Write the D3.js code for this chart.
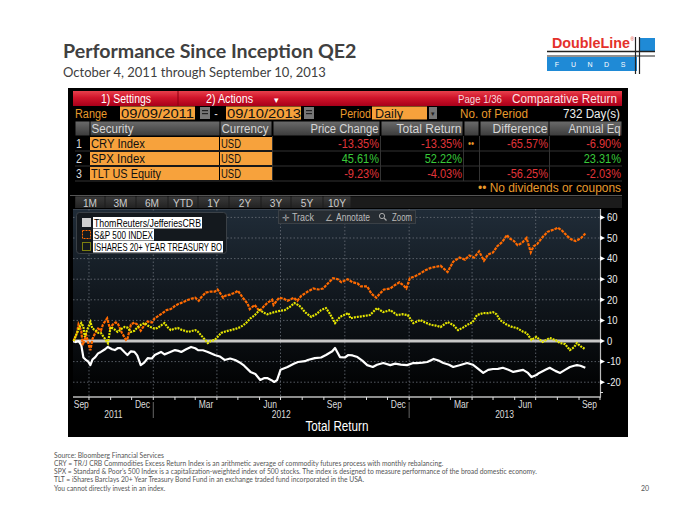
<!DOCTYPE html>
<html><head><meta charset="utf-8">
<script src="https://cdn.jsdelivr.net/npm/d3@7"></script>
<style>body{margin:0;background:#fff}svg{display:block}</style>
</head><body><svg id="c" width="700" height="525"></svg>
<script>
// ---------------- DATA ----------------
const seriesNames = ["ThomReuters/JefferiesCRB", "S&P 500 INDEX", "ISHARES 20+ YEAR TREASURY BO"];
const securities = ["CRY Index", "SPX Index", "TLT US Equity"];
const currencies = ["USD", "USD", "USD"];
const priceChange = [-13.35, 45.61, -9.23];
const totalReturn = [-13.35, 52.22, -4.03];
const difference = [-65.57, null, -56.25];
const annualEq = [-6.90, 23.31, -2.03];
const rangeStart = "09/09/2011", rangeEnd = "09/10/2013";
const periodButtons = ["1M","3M","6M","YTD","1Y","2Y","3Y","5Y","10Y"];
const yTicks = [60, 50, 40, 30, 20, 10, 0, -10, -20];

const cryData = [
["2011-09-09",0],["2011-09-12",-0.5],["2011-09-16",0],["2011-09-20",-2],["2011-09-23",-8],["2011-09-26",-9],["2011-09-30",-10],
["2011-10-03",-11.7],["2011-10-06",-9],["2011-10-10",-7.8],["2011-10-14",-6],["2011-10-18",-5.3],["2011-10-24",-4],["2011-10-28",-2.9],
["2011-11-03",-4],["2011-11-07",-4.4],["2011-11-11",-3.5],["2011-11-15",-3.4],["2011-11-21",-5.5],["2011-11-25",-6.8],["2011-11-30",-5],
["2011-12-05",-5.3],["2011-12-09",-7],["2011-12-14",-11.7],["2011-12-19",-10.5],["2011-12-24",-8.3],["2011-12-30",-8.5],
["2012-01-03",-6.8],["2012-01-12",-5.3],["2012-01-17",-6.5],["2012-01-22",-5.8],["2012-02-01",-4.4],["2012-02-06",-4.8],["2012-02-10",-5.3],
["2012-02-17",-4],["2012-02-24",-2.9],["2012-03-01",-3.5],["2012-03-05",-4.4],["2012-03-12",-4.5],["2012-03-19",-5.3],["2012-03-29",-6.8],
["2012-04-05",-7.5],["2012-04-12",-9.2],["2012-04-20",-8.5],["2012-04-27",-9.2],["2012-05-05",-10.7],["2012-05-10",-12],["2012-05-19",-15],
["2012-05-26",-16],["2012-06-02",-18.9],["2012-06-08",-18],["2012-06-12",-18],["2012-06-18",-19],["2012-06-22",-19.9],["2012-06-26",-19],
["2012-07-01",-14],["2012-07-11",-12.6],["2012-07-20",-11],["2012-07-26",-10.2],["2012-08-05",-9.8],["2012-08-09",-9.2],["2012-08-19",-8.3],
["2012-08-28",-8],["2012-09-04",-6.8],["2012-09-13",-5],["2012-09-17",-3.4],["2012-09-24",-7.8],["2012-10-01",-8],["2012-10-06",-6.8],
["2012-10-12",-7],["2012-10-19",-7.8],["2012-10-26",-9.5],["2012-11-02",-11.7],["2012-11-10",-12.6],["2012-11-16",-11.5],["2012-11-25",-10.7],
["2012-12-05",-11.7],["2012-12-12",-11],["2012-12-20",-11.5],["2012-12-29",-11.7],["2013-01-07",-10.7],["2013-01-12",-10.7],["2013-01-20",-10.5],
["2013-01-27",-10.2],["2013-02-05",-8.7],["2013-02-12",-9.5],["2013-02-19",-10.7],["2013-02-27",-11.5],["2013-03-05",-12.6],["2013-03-14",-11.8],
["2013-03-25",-10.7],["2013-04-02",-11.5],["2013-04-08",-13],["2013-04-17",-15.5],["2013-04-24",-14],["2013-05-01",-13.6],["2013-05-08",-13.5],
["2013-05-15",-13],["2013-05-23",-14],["2013-05-30",-15],["2013-06-06",-14.5],["2013-06-13",-14],["2013-06-20",-15.5],["2013-06-25",-17.5],
["2013-07-02",-16.5],["2013-07-06",-15.5],["2013-07-15",-14],["2013-07-21",-13],["2013-07-29",-14.5],["2013-08-05",-15.5],["2013-08-12",-14],
["2013-08-19",-12.6],["2013-08-25",-12],["2013-08-29",-11.7],["2013-09-03",-12],["2013-09-10",-13]
];
const spxData = [
["2011-09-09",0],["2011-09-14",4],["2011-09-16",8],["2011-09-20",5],["2011-09-22",-2],["2011-09-27",3],["2011-09-30",-1],["2011-10-03",-4.5],
["2011-10-06",1],["2011-10-10",4],["2011-10-14",6],["2011-10-18",5],["2011-10-21",8],["2011-10-27",11],["2011-10-31",6],["2011-11-04",8],
["2011-11-08",9],["2011-11-11",8.7],["2011-11-17",4],["2011-11-23",0.5],["2011-11-25",1],["2011-11-30",8],["2011-12-05",9],["2011-12-09",8],
["2011-12-14",5],["2011-12-20",8],["2011-12-24",9.5],["2011-12-30",9],["2012-01-03",11],["2012-01-12",13],["2012-01-20",15],["2012-01-26",15.5],
["2012-02-01",17],["2012-02-06",18],["2012-02-10",18.5],["2012-02-20",20],["2012-02-24",20.5],["2012-03-01",21],["2012-03-06",19.5],["2012-03-09",21],
["2012-03-16",23.5],["2012-03-23",24],["2012-03-29",24],["2012-04-02",25],["2012-04-10",21],["2012-04-13",22],["2012-04-20",22.5],["2012-04-27",23.5],
["2012-05-01",24.5],["2012-05-07",21.5],["2012-05-15",18],["2012-05-18",15.5],["2012-05-25",17.5],["2012-06-01",14.5],["2012-06-05",16],["2012-06-12",18.5],
["2012-06-19",20],["2012-06-21",17.5],["2012-06-29",21],["2012-07-06",20.5],["2012-07-11",19.5],["2012-07-20",21],["2012-07-25",19.5],["2012-07-31",22],
["2012-08-09",24],["2012-08-17",25.5],["2012-08-24",25],["2012-08-31",25.5],["2012-09-07",28],["2012-09-14",30.5],["2012-09-21",30],["2012-09-26",28.5],
["2012-10-05",30],["2012-10-12",28.5],["2012-10-19",28],["2012-10-24",26.5],["2012-11-02",26.5],["2012-11-08",23],["2012-11-15",21],["2012-11-20",23],
["2012-11-26",25],["2012-12-05",25.5],["2012-12-11",27],["2012-12-18",28.5],["2012-12-24",27],["2012-12-28",25.5],["2013-01-02",30.5],["2013-01-10",31.5],
["2013-01-18",33],["2013-01-25",34.5],["2013-02-01",35.5],["2013-02-08",36],["2013-02-15",36.5],["2013-02-20",35],["2013-02-25",33.5],["2013-03-01",36],
["2013-03-05",38.5],["2013-03-14",40.5],["2013-03-22",39.5],["2013-03-28",41.5],["2013-04-04",40.5],["2013-04-11",43.5],["2013-04-18",39],["2013-04-24",42],
["2013-05-01",43],["2013-05-07",46],["2013-05-14",48],["2013-05-21",51.5],["2013-05-24",50],["2013-05-31",48.5],["2013-06-05",46.5],["2013-06-11",47.5],
["2013-06-18",50],["2013-06-24",43],["2013-06-28",46],["2013-07-03",47],["2013-07-11",50.5],["2013-07-18",53],["2013-07-26",54],["2013-08-02",55],
["2013-08-08",53.5],["2013-08-15",51],["2013-08-20",49.5],["2013-08-27",48.5],["2013-08-30",49],["2013-09-04",50],["2013-09-10",52.2]
];
const tltData = [
["2011-09-09",0],["2011-09-14",4],["2011-09-20",8.7],["2011-09-23",7],["2011-09-25",2],["2011-09-28",5],["2011-10-03",9.2],["2011-10-06",6],
["2011-10-10",5.3],["2011-10-14",4],["2011-10-18",3.9],["2011-10-24",1],["2011-10-28",-1],["2011-11-01",6.8],["2011-11-07",5.5],["2011-11-11",4.4],
["2011-11-17",6],["2011-11-21",6.8],["2011-11-25",6.5],["2011-11-30",4.4],["2011-12-05",5],["2011-12-10",6.8],["2011-12-15",8],["2011-12-20",8.7],
["2011-12-24",7.5],["2011-12-28",6.8],["2012-01-03",6],["2012-01-07",6.3],["2012-01-12",7.5],["2012-01-17",8.7],["2012-01-22",6.5],["2012-01-26",5.3],
["2012-02-01",6],["2012-02-05",6.3],["2012-02-10",5.5],["2012-02-20",4.4],["2012-02-24",4.8],["2012-03-01",5.3],["2012-03-05",4.5],["2012-03-09",2.9],
["2012-03-14",1],["2012-03-19",-1],["2012-03-23",0],["2012-03-29",0.5],["2012-04-07",3.9],["2012-04-12",4.5],["2012-04-21",5.3],["2012-04-27",5.8],
["2012-05-05",6.8],["2012-05-12",8.5],["2012-05-19",11],["2012-05-25",12.5],["2012-06-01",15],["2012-06-08",13.6],["2012-06-12",13],["2012-06-22",14],
["2012-06-28",14.5],["2012-07-07",15],["2012-07-14",16.5],["2012-07-21",18.4],["2012-07-26",17.5],["2012-07-30",16.5],["2012-08-05",14],["2012-08-14",11.7],
["2012-08-21",13],["2012-08-28",15],["2012-09-04",16],["2012-09-10",13],["2012-09-17",8.7],["2012-09-24",11.7],["2012-10-06",13.6],["2012-10-09",11],
["2012-10-15",11.5],["2012-10-19",11.7],["2012-10-26",12],["2012-11-06",12.6],["2012-11-16",16],["2012-11-25",14],["2012-12-05",15],["2012-12-15",12.6],
["2012-12-22",13],["2012-12-30",12.6],["2013-01-07",8.7],["2013-01-17",10.2],["2013-01-24",9],["2013-02-01",7.8],["2013-02-08",7.5],["2013-02-15",6.8],
["2013-02-25",9.2],["2013-03-05",7.8],["2013-03-12",5.3],["2013-03-19",6.5],["2013-03-25",7.8],["2013-04-02",9.2],["2013-04-08",12.6],["2013-04-17",13.6],
["2013-04-24",13.5],["2013-05-01",14],["2013-05-06",13],["2013-05-11",10.2],["2013-05-21",7.8],["2013-05-27",7],["2013-06-04",6.3],["2013-06-13",4.5],
["2013-06-18",3.9],["2013-06-25",0.5],["2013-07-02",2],["2013-07-11",-0.5],["2013-07-21",1.5],["2013-07-29",0.5],["2013-08-05",-1],["2013-08-12",-1.5],
["2013-08-19",-4.4],["2013-08-25",-3],["2013-08-29",-1],["2013-09-03",-2.5],["2013-09-10",-4]
];
const footnotes = [
"Source: Bloomberg Financial Services",
"CRY = TR/J CRB Commodities Excess Return Index is an arithmetic average of commodity futures process with monthly rebalancing.",
"SPX = Standard & Poor\u2019s 500 Index is a capitalization-weighted index of 500 stocks. The index is designed to measure performance of the broad domestic economy.",
"TLT = iShares Barclays 20+ Year Treasury Bond Fund in an exchange traded fund incorporated in the USA.",
"You cannot directly invest in an index."
];

// ---------------- DRAW ----------------
const svg = d3.select("#c");
const BB = "'Liberation Sans',Arial,sans-serif";
const SL = "Lato,'Open Sans',sans-serif";
const defs = svg.append("defs");
function grad(id, stops){
  const g = defs.append("linearGradient").attr("id", id).attr("x1",0).attr("y1",0).attr("x2",0).attr("y2",1);
  stops.forEach(s => g.append("stop").attr("offset", s[0]).attr("stop-color", s[1]));
}
grad("red", [[0,"#e8404c"],[0.45,"#d0142a"],[1,"#a8001a"]]);
grad("hdr", [[0,"#6a6a6a"],[1,"#3c3c3c"]]);
grad("plot", [[0,"#202c38"],[0.5,"#10161c"],[1,"#000000"]]);
grad("btn", [[0,"#3a3a3a"],[1,"#222"]]);

// text helper: o.w -> exact width via textLength; otherwise horizontal condense o.sx (default 0.88 for panel font)
function T(x,y,s,o={}){
  const ff = o.ff||BB;
  const t = svg.append("text").text(s)
    .attr("font-family", ff).attr("font-size", o.fs||12).attr("fill", o.c||"#fff")
    .attr("text-anchor", o.a||"start");
  if (o.fw) t.attr("font-weight", o.fw);
  if (o.w) {
    t.attr("x",x).attr("y",y).attr("textLength", o.w).attr("lengthAdjust","spacingAndGlyphs");
  } else {
    const sx = o.sx != null ? o.sx : (ff===BB ? 0.88 : 1);
    if (sx === 1) t.attr("x",x).attr("y",y);
    else t.attr("transform", `translate(${x},${y}) scale(${sx},1)`);
  }
  return t;
}
function R(x,y,w,h,f,o={}){
  const r = svg.append("rect").attr("x",x).attr("y",y).attr("width",w).attr("height",h).attr("fill",f);
  if (o.s) r.attr("stroke", o.s).attr("stroke-width", o.sw||1);
  if (o.rx) r.attr("rx", o.rx);
  return r;
}

// Title
T(63, 58, "Performance Since Inception QE2", {ff:SL, fs:19.6, fw:"bold", c:"#404040"});
T(63, 77, "October 4, 2011 through September 10, 2013", {ff:SL, fs:13, c:"#404040"});

// Logo
T(552, 48, "DoubleLine", {fs:14.5, fw:"bold", c:"#e4312b", w:78});
T(630.5, 41, "\u00AE", {fs:5, c:"#e4312b", sx:1});
R(547, 57, 90, 14, "#1f8ad6");
R(640, 38, 15, 13.5, "#1f8ad6");
svg.append("line").attr("x1",547).attr("x2",655).attr("y1",51.5).attr("y2",51.5).attr("stroke","#222").attr("stroke-width",1.4);
svg.append("line").attr("x1",547).attr("x2",655).attr("y1",56).attr("y2",56).attr("stroke","#222").attr("stroke-width",1.2);
svg.append("line").attr("x1",635.5).attr("x2",635.5).attr("y1",37).attr("y2",74).attr("stroke","#222").attr("stroke-width",1.2);
svg.append("line").attr("x1",639.5).attr("x2",639.5).attr("y1",37).attr("y2",74).attr("stroke","#222").attr("stroke-width",1.2);
["F","U","N","D","S"].forEach((l,i)=>T(557+i*16.5, 67, l, {fs:7, c:"#fff", a:"middle", sx:1}));

// Bloomberg panel
R(68, 88, 560, 349, "#000");
// header bar
R(73, 91, 549, 15, "url(#red)");
svg.append("line").attr("x1",178).attr("x2",178).attr("y1",91).attr("y2",106).attr("stroke","#8a0010").attr("stroke-width",1);
T(126, 103, "1) Settings", {fs:13, a:"middle", w:50});
T(206, 103, "2) Actions", {fs:13, w:47});
T(276, 103, "\u25BE", {fs:9, a:"middle", sx:1});
T(458, 102.5, "Page 1/36", {fs:10.5, c:"#f4d8dc", w:44});
T(617, 103, "Comparative Return", {fs:13, c:"#fbe4e6", a:"end", w:105});

// Range row
T(75, 117.5, "Range", {fs:12.5, c:"#e89a2c", w:32});
R(120, 106.5, 75, 13, "#f7a23c");
T(121, 117.5, rangeStart, {fs:12.5, c:"#111", w:73});
function cal(x){ R(x, 107, 10, 12, "#777"); R(x+2, 110, 6, 1.2, "#222"); R(x+2, 113, 6, 1.2, "#222"); }
cal(200);
T(216, 117.5, "-", {fs:12, c:"#ddd", a:"middle"});
R(226, 106.5, 75, 13, "#f7a23c");
T(227, 117.5, rangeEnd, {fs:12.5, c:"#111", w:74});
cal(304);
T(340, 117.5, "Period", {fs:12.5, c:"#e89a2c", w:31});
R(372, 106.5, 55, 13, "#f7a23c");
T(375, 117.5, "Daily", {fs:12.5, c:"#111", w:28});
R(429, 107, 8, 12, "#777");
T(433, 116, "\u25BE", {fs:7, c:"#222", a:"middle", sx:1});
T(460, 117.5, "No. of Period", {fs:12.5, c:"#e89a2c", w:68});
T(620, 117.5, "732 Day(s)", {fs:12.5, c:"#eee", a:"end", w:57});

// table header
const cols = [
  {x0:75, x1:90}, {x0:90, x1:220, t:"Security", a:"start", w:42}, {x0:220, x1:272, t:"Currency", a:"start", w:47},
  {x0:273, x1:380, t:"Price Change", a:"end", w:68}, {x0:381, x1:463, t:"Total Return", a:"end", w:65},
  {x0:464, x1:479}, {x0:480, x1:549, t:"Difference", a:"end", w:55}, {x0:549, x1:622, t:"Annual Eq", a:"end", w:52}
];
cols.forEach(c => {
  R(c.x0+0.5, 121.5, c.x1-c.x0-1, 14, "url(#hdr)");
  if (c.t) T(c.a==="end"? c.x1-1.5 : c.x0+1.5, 133, c.t, {fs:12.5, c:"#d6d6d6", a:c.a, w:c.w});
});
// rows
function fmt(v){ return v==null? "" : v.toFixed(2)+"%"; }
const secW = [54, 54, 70];
securities.forEach((s,i) => {
  const yy = 136 + i*15, b = yy + 12;
  svg.append("line").attr("x1",75).attr("x2",622).attr("y1",yy+15).attr("y2",yy+15).attr("stroke","#333");
  T(79, b, String(i+1), {fs:12, c:"#ddd", a:"middle"});
  R(90, yy+1, 129, 13, "#f7a23c");
  T(91, b, s, {fs:12.5, c:"#111", w:secW[i]});
  R(220, yy+1, 52, 13, "#f7a23c");
  T(221, b, currencies[i], {fs:12.5, c:"#111", w:20});
  const col = v => v < 0 ? "#e0353a" : "#39c93a";
  T(379, b, fmt(priceChange[i]), {fs:12.5, c:col(priceChange[i]), a:"end"});
  T(462, b, fmt(totalReturn[i]), {fs:12.5, c:col(totalReturn[i]), a:"end"});
  if (i===0) T(471, b-1, "\u2022\u2022", {fs:10, c:"#e89a2c", a:"middle"});
  if (difference[i]!=null) T(548, b, fmt(difference[i]), {fs:12.5, c:col(difference[i]), a:"end"});
  T(621, b, fmt(annualEq[i]), {fs:12.5, c:col(annualEq[i]), a:"end"});
});
[272.5, 380.5, 463.5, 479.5, 549.5].forEach(x => svg.append("line").attr("x1",x).attr("x2",x).attr("y1",136).attr("y2",181).attr("stroke","#333"));
T(621, 192, "\u2022\u2022 No dividends or coupons", {fs:12.5, c:"#e89a2c", a:"end", w:143});

// buttons row
svg.append("line").attr("x1",70).attr("x2",622).attr("y1",195.5).attr("y2",195.5).attr("stroke","#555");
R(75, 196.5, 547, 11.5, "#1b1b1b");
const bx = [75,105,136,168,198,229,261,291,323,351];
periodButtons.forEach((b,i) => {
  R(bx[i]+0.5, 196.5, bx[i+1]-bx[i]-1, 11.5, "url(#btn)");
  T((bx[i]+bx[i+1])/2, 206.5, b, {fs:11.5, c:"#ccc", a:"middle"});
});

// ---------------- CHART ----------------
const parse = d3.timeParse("%Y-%m-%d");
const xS = d3.scaleTime().domain([new Date(2011,8,9), new Date(2013,9,1)]).range([73.6, 600]);
const yS = d3.scaleLinear().domain([0, 10]).range([341, 320.4]);
const pTop = 209, pBot = 397;
R(73, pTop, 527, pBot-pTop, "url(#plot)");
svg.append("line").attr("x1",73).attr("x2",600).attr("y1",pTop+0.5).attr("y2",pTop+0.5).attr("stroke","#3a4450");

// grid
yTicks.filter(v => v!==0).forEach(v => svg.append("line").attr("x1",73).attr("x2",600).attr("y1",yS(v)).attr("y2",yS(v))
  .attr("stroke","#6a7078").attr("stroke-width",0.8).attr("stroke-dasharray","1.5,2"));
const quarters = d3.timeMonth.range(new Date(2011,9,1), new Date(2013,9,1)).filter(d => d.getMonth()%3===0);
quarters.forEach(d => svg.append("line").attr("x1",xS(d)).attr("x2",xS(d)).attr("y1",pTop).attr("y2",pBot)
  .attr("stroke","#6a7078").attr("stroke-width",0.8).attr("stroke-dasharray","1.5,2"));

// zero line
svg.append("line").attr("x1",73).attr("x2",600).attr("y1",yS(0)).attr("y2",yS(0)).attr("stroke","#c8c8c8").attr("stroke-width",3);

// series
const line = d3.line().x(d => xS(parse(d[0]))).y(d => yS(d[1]));
svg.append("path").datum(cryData).attr("d", line).attr("fill","none").attr("stroke","#ffffff").attr("stroke-width",2.2).attr("stroke-linejoin","round");
svg.append("path").datum(spxData).attr("d", line).attr("fill","none").attr("stroke","#ff6a00").attr("stroke-width",2.2).attr("stroke-dasharray","3,1");
svg.append("path").datum(tltData).attr("d", line).attr("fill","none").attr("stroke","#e6e600").attr("stroke-width",2.2).attr("stroke-dasharray","2,1");

// axes
svg.append("line").attr("x1",73).attr("x2",601).attr("y1",pBot).attr("y2",pBot).attr("stroke","#bbb").attr("stroke-width",1.5);
svg.append("line").attr("x1",600.5).attr("x2",600.5).attr("y1",pTop).attr("y2",pBot).attr("stroke","#bbb").attr("stroke-width",1.2);
yTicks.forEach(v => {
  svg.append("path").attr("d", `M600,${yS(v)-2.5}L605,${yS(v)}L600,${yS(v)+2.5}Z`).attr("fill","#fff");
  T(607, yS(v)+3.8, String(v), {fs:10.5, c:"#eee", sx:0.9});
});
svg.append("line").attr("x1",600).attr("x2",603).attr("y1",yS(-25)).attr("y2",yS(-25)).attr("stroke","#ddd");
const months = d3.timeMonth.range(new Date(2011,9,1), new Date(2013,9,2));
months.forEach(d => svg.append("line").attr("x1",xS(d)).attr("x2",xS(d)).attr("y1",pBot).attr("y2",pBot+3).attr("stroke","#ddd"));
const labelMonths = [new Date(2011,8,1)].concat(d3.timeMonth.range(new Date(2011,11,1), new Date(2013,9,1)).filter(d => d.getMonth()%3===2));
const mfmt = d3.timeFormat("%b");
const [d0, d1] = xS.domain();
labelMonths.forEach(d => {
  const s = d < d0 ? d0 : d, e = d3.timeMonth.offset(d,1) > d1 ? d1 : d3.timeMonth.offset(d,1);
  T((xS(s)+xS(e))/2, 408, mfmt(d), {fs:10, c:"#ddd", a:"middle", sx:0.85});
});
const years = [2011, 2012, 2013];
years.forEach(yr => {
  const s = new Date(yr,0,1) < d0 ? d0 : new Date(yr,0,1), e = new Date(yr+1,0,1) > d1 ? d1 : new Date(yr+1,0,1);
  T((xS(s)+xS(e))/2, 417.5, String(yr), {fs:10, c:"#ddd", a:"middle", sx:0.85});
  if (yr > 2011) svg.append("line").attr("x1",xS(new Date(yr,0,1))).attr("x2",xS(new Date(yr,0,1))).attr("y1",402).attr("y2",418).attr("stroke","#666");
});
T(337, 431, "Total Return", {fs:14, c:"#fff", a:"middle", w:63});

// legend
R(76.5, 212.5, 150, 41, "#14191e", {s:"#3a4046", rx:3});
const lc = ["#cfcfcf","#ff6a00","#e6e600"];
const legW = [107, 59, 128];
seriesNames.forEach((n,i) => {
  const yy = 218 + i*12;
  if (i===0) R(82, yy, 9, 9, "#cfcfcf");
  else R(82.5, yy+0.5, 8, 8, "none", {s:lc[i], sw:1}).attr("stroke-dasharray", i===1?"2,1":"1,1");
  R(93, yy-1, legW[i]+2, 11.5, "#fff");
  T(94, yy+8.5, n, {fs:10.5, c:"#000", w:legW[i]});
});

// toolbar
R(278.5, 210.5, 137, 13, "#262c32", {s:"#3a4046"});
T(286, 220.5, "\u271B", {fs:9, c:"#aaa", a:"middle", sx:1});
T(292, 221, "Track", {fs:11, c:"#bbb", w:22});
T(329, 221, "\u2220", {fs:9, c:"#aaa", a:"middle", sx:1});
T(336, 221, "Annotate", {fs:11, c:"#bbb", w:34});
svg.append("circle").attr("cx",382).attr("cy",216).attr("r",2.6).attr("fill","none").attr("stroke","#aaa");
svg.append("line").attr("x1",384).attr("y1",218).attr("x2",386.5).attr("y2",220.5).attr("stroke","#aaa").attr("stroke-width",1.2);
T(392, 221, "Zoom", {fs:11, c:"#bbb", w:20});

// footnotes
footnotes.forEach((f,i) => T(54, 457.5 + i*8.3, f, {ff:SL, fs:6.75, c:"#555"}));
T(645, 491, "20", {ff:SL, fs:7, c:"#555", a:"middle"});
</script></body></html>
